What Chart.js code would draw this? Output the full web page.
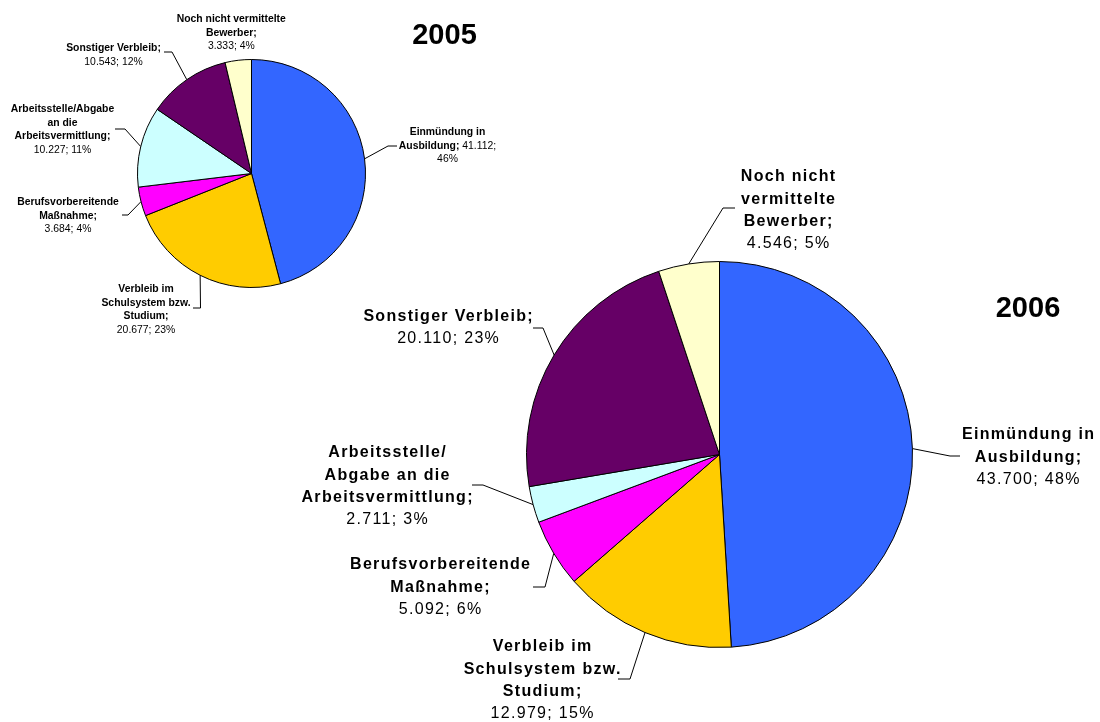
<!DOCTYPE html>
<html>
<head>
<meta charset="utf-8">
<script src="https://cdn.jsdelivr.net/npm/chart.js@4.4.0/dist/chart.umd.min.js"></script>
<style>
  html, body { margin: 0; padding: 0; background: #ffffff; }
  #wrap { position: relative; width: 1100px; height: 722px; overflow: hidden; }
  canvas { position: absolute; left: 0; top: 0; pointer-events: none; }
</style>
</head>
<body>
<div id="wrap">
  <canvas id="c2005" width="1100" height="722"></canvas>
  <canvas id="c2006" width="1100" height="722"></canvas>
</div>
<script>
// ---------- data ----------
const categories = [
  'Einmündung in Ausbildung',
  'Verbleib im Schulsystem bzw. Studium',
  'Berufsvorbereitende Maßnahme',
  'Arbeitsstelle/Abgabe an die Arbeitsvermittlung',
  'Sonstiger Verbleib',
  'Noch nicht vermittelte Bewerber'
];
const values2005 = [41112, 20677, 3684, 10227, 10543, 3333];
const values2006 = [43700, 12979, 5092, 2711, 20110, 4546];
const percent2005 = [46, 23, 4, 11, 12, 4];
const percent2006 = [48, 15, 6, 3, 23, 5];
const yearLabels = ['2005', '2006'];
const sliceColors = ['#3366FF', '#FFCC00', '#FF00FF', '#CCFFFF', '#660066', '#FFFFCC'];

// ---------- helpers ----------
const FAMILY = '"Liberation Sans", Arial, sans-serif';
function fmt(v) { return String(v).replace(/\B(?=(\d{3})+(?!\d))/g, '.'); }

// label layouts (text placement + leader bends), per chart
const layout2005 = {
  size: 10.4, lineHeight: 13.4, spacing: 0,
  title: { text: yearLabels[0], x: 444.5, y: 36, size: 29 },
  items: [
    { i: 0, x: 447.5, y: 132.3, lines: [[{ b: 'Einmündung in' }], [{ b: 'Ausbildung; ' }, { val: true }], [{ pct: true }]], leader: [[388, 146], [397, 146]] },
    { i: 1, x: 146, y: 289.5, lines: [[{ b: 'Verbleib im' }], [{ b: 'Schulsystem bzw.' }], [{ b: 'Studium;' }], [{ vp: true }]], leader: [[200.5, 308], [193, 308]] },
    { i: 2, x: 68, y: 202.5, lines: [[{ b: 'Berufsvorbereitende' }], [{ b: 'Maßnahme;' }], [{ vp: true }]], leader: [[128, 215], [122, 215]] },
    { i: 3, x: 62.5, y: 109.5, lines: [[{ b: 'Arbeitsstelle/Abgabe' }], [{ b: 'an die' }], [{ b: 'Arbeitsvermittlung;' }], [{ vp: true }]], leader: [[125, 129], [115, 129]] },
    { i: 4, x: 113.5, y: 48.3, lines: [[{ b: 'Sonstiger Verbleib;' }], [{ vp: true }]], leader: [[172, 52], [164, 52]] },
    { i: 5, x: 231.3, y: 19.3, lines: [[{ b: 'Noch nicht vermittelte' }], [{ b: 'Bewerber;' }], [{ vp: true }]], leader: null }
  ]
};
const layout2006 = {
  size: 16, lineHeight: 22.3, spacing: 1.3,
  title: { text: yearLabels[1], x: 1028, y: 308.5, size: 29 },
  items: [
    { i: 0, x: 1028, y: 435, lines: [[{ b: 'Einmündung in' }], [{ b: 'Ausbildung;' }], [{ vp: true }]], leader: [[950, 456], [960, 456]] },
    { i: 1, x: 542, y: 647, lines: [[{ b: 'Verbleib im' }], [{ b: 'Schulsystem bzw.' }], [{ b: 'Studium;' }], [{ vp: true }]], leader: [[630, 679], [618, 679]] },
    { i: 2, x: 440, y: 565, lines: [[{ b: 'Berufsvorbereitende' }], [{ b: 'Maßnahme;' }], [{ vp: true }]], leader: [[545, 587], [533, 587]] },
    { i: 3, x: 387, y: 453, lines: [[{ b: 'Arbeitsstelle/' }], [{ b: 'Abgabe an die' }], [{ b: 'Arbeitsvermittlung;' }], [{ vp: true }]], leader: [[483, 485], [472, 485]] },
    { i: 4, x: 448, y: 316.7, lines: [[{ b: 'Sonstiger Verbleib;' }], [{ vp: true }]], leader: [[543, 328], [533, 328]] },
    { i: 5, x: 788, y: 177, lines: [[{ b: 'Noch nicht' }], [{ b: 'vermittelte' }], [{ b: 'Bewerber;' }], [{ vp: true }]], leader: [[723, 208], [735, 208]] }
  ]
};

// ---------- label plugin ----------
const sliceLabelPlugin = {
  id: 'sliceLabels',
  afterDraw(chart, args, opts) {
    const L = opts.layout;
    if (!L) return;
    const ctx = chart.ctx;
    const ds = chart.data.datasets[0];
    const meta = chart.getDatasetMeta(0);
    const pcts = opts.percents;
    ctx.save();
    ctx.textBaseline = 'middle';
    ctx.textAlign = 'left';
    ctx.fillStyle = '#000';
    ctx.strokeStyle = '#000';
    ctx.lineWidth = 1;
    L.items.forEach(item => {
      const v = ds.data[item.i];
      const p = pcts[item.i];
      // leader line starting at the slice's mid-angle on the rim
      if (item.leader) {
        const arc = meta.data[item.i];
        const pr = arc.getProps(['x', 'y', 'startAngle', 'endAngle', 'outerRadius'], true);
        const mid = (pr.startAngle + pr.endAngle) / 2;
        const sx = pr.x + Math.cos(mid) * pr.outerRadius;
        const sy = pr.y + Math.sin(mid) * pr.outerRadius;
        ctx.beginPath();
        ctx.moveTo(sx, sy);
        item.leader.forEach(pt => ctx.lineTo(pt[0], pt[1]));
        ctx.stroke();
      }
      item.lines.forEach((segs, li) => {
        const parts = segs.map(s => {
          let text, bold;
          if (s.b !== undefined) { text = s.b; bold = true; }
          else if (s.val) { text = fmt(v) + ';'; bold = false; }
          else if (s.pct) { text = p + '%'; bold = false; }
          else { text = fmt(v) + '; ' + p + '%'; bold = false; }
          return { text, bold };
        });
        let total = 0;
        parts.forEach(pt => {
          ctx.font = (pt.bold ? 'bold ' : '') + L.size + 'px ' + FAMILY;
          ctx.letterSpacing = L.spacing + 'px';
          pt.w = ctx.measureText(pt.text).width;
          total += pt.w;
        });
        total -= L.spacing;
        let x = item.x - total / 2;
        const y = item.y + li * L.lineHeight;
        parts.forEach(pt => {
          ctx.font = (pt.bold ? 'bold ' : '') + L.size + 'px ' + FAMILY;
          ctx.letterSpacing = L.spacing + 'px';
          ctx.fillText(pt.text, x, y);
          x += pt.w;
        });
      });
    });
    // year title
    ctx.letterSpacing = '0px';
    ctx.textAlign = 'center';
    ctx.font = 'bold ' + L.title.size + 'px ' + FAMILY;
    ctx.fillText(L.title.text, L.title.x, L.title.y);
    ctx.restore();
  }
};

function makePie(id, values, percents, layout, padding) {
  return new Chart(document.getElementById(id), {
    type: 'pie',
    data: {
      labels: categories,
      datasets: [{
        data: values,
        backgroundColor: sliceColors,
        borderColor: '#000000',
        borderWidth: 1
      }]
    },
    options: {
      responsive: false,
      animation: false,
      devicePixelRatio: 1,
      events: [],
      layout: { padding: padding },
      plugins: {
        legend: { display: false },
        tooltip: { enabled: false },
        title: { display: false },
        sliceLabels: { layout: layout, percents: percents }
      }
    },
    plugins: [sliceLabelPlugin]
  });
}

makePie('c2005', values2005, percent2005, layout2005, { left: 137, top: 59, right: 734, bottom: 434 });
makePie('c2006', values2006, percent2006, layout2006, { left: 526, top: 261, right: 187, bottom: 74 });
</script>
</body>
</html>
